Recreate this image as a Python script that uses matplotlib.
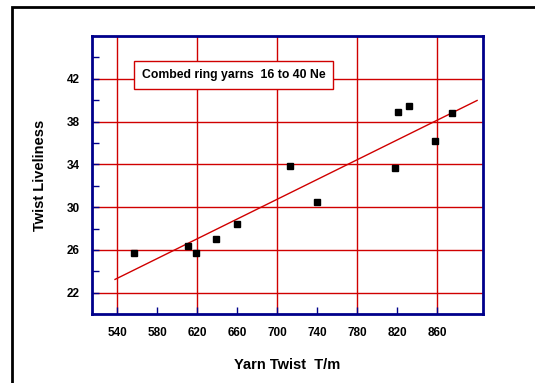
"""Twist liveliness vs yarn twist, combed ring yarns."""
import numpy as np
import matplotlib.pyplot as plt
from matplotlib.patches import Rectangle

plt.rcParams['font.family'] = ['Liberation Sans', 'DejaVu Sans']

# 数据
yarn_twist = [557, 611, 619, 639, 660, 713, 740, 818, 821, 832, 858, 875]
liveliness = [25.7, 26.4, 25.7, 27.0, 28.4, 33.8, 30.5, 33.7, 38.9, 39.5, 36.2, 38.8]
fit_range = [538, 900]
x_ticks = [540, 580, 620, 660, 700, 740, 780, 820, 860]
x_grid = [540, 620, 700, 780, 860]
y_ticks = [22, 26, 30, 34, 38, 42]
y_minor = [24, 28, 32, 36, 40, 44]
box_text = 'Combed ring yarns  16 to 40 Ne'

red = '#d00000'
navy = '#00008b'

fig = plt.figure(figsize=(5.35, 3.83), dpi=100)
# 外框
fig.patches.append(Rectangle((12 / 535, -0.1), 1.2, 1 - 7 / 383 + 0.1,
                             transform=fig.transFigure, fill=False,
                             edgecolor='black', linewidth=2))

ax = fig.add_axes([0.172, 0.180, 0.731, 0.726])
ax.set_xlim(515, 906)
ax.set_ylim(20, 46)

for x in x_grid:
    ax.axvline(x, color=red, linewidth=1, zorder=1)
for y in y_ticks:
    ax.axhline(y, color=red, linewidth=1, zorder=1)

# 回归线
k, b = np.polyfit(yarn_twist, liveliness, 1)
xf = np.array(fit_range)
ax.plot(xf, k * xf + b, color=red, linewidth=1, zorder=2)

ax.plot(yarn_twist, liveliness, 's', color='black', markersize=4.5, zorder=3)

ax.set_xticks(x_ticks)
ax.set_yticks(y_ticks)
ax.set_yticks(y_minor, minor=True)
ax.tick_params(axis='both', direction='in', color=navy, length=5, width=1,
               labelsize=8.5, pad=9)
ax.tick_params(axis='y', which='minor', direction='in', color=navy, length=5, width=1)
for lab in ax.get_xticklabels() + ax.get_yticklabels():
    lab.set_fontweight('bold')

for s in ax.spines.values():
    s.set_color(navy)
    s.set_linewidth(2)

ax.set_xlabel('Yarn Twist  T/m', fontsize=10.5, fontweight='bold', labelpad=14)
ax.set_ylabel('Twist Liveliness', fontsize=10.5, fontweight='bold', labelpad=14)

ax.text(564.5, 42.35, box_text, fontsize=8.8, fontweight='bold', va='center', ha='left',
        zorder=5,
        bbox=dict(boxstyle='square,pad=0.62', facecolor='white', edgecolor=red, linewidth=1))

fig.savefig('out.png', dpi=100)
